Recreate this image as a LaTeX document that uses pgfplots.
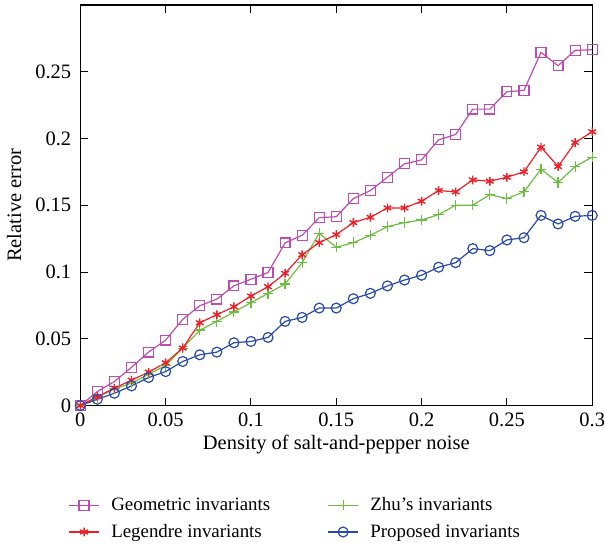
\documentclass[border=0pt]{standalone}
\usepackage{fontspec}
\setmainfont{Liberation Serif}
\usepackage{pgfplots}
\pgfplotsset{compat=1.18}

\definecolor{cgeo}{RGB}{190,76,176}
\definecolor{cleg}{RGB}{236,32,40}
\definecolor{czhu}{RGB}{108,190,64}
\definecolor{cpro}{RGB}{40,74,168}

\begin{document}
\fontsize{10.3}{12}\selectfont
\begin{tikzpicture}
\begin{axis}[
    scale only axis,
    width=257.5pt, height=201.5pt,
    xmin=0, xmax=0.3, ymin=0, ymax=0.3,
    xtick={0,0.05,0.1,0.15,0.2,0.25,0.3},
    ytick={0,0.05,0.1,0.15,0.2,0.25},
    xticklabels={0,0.05,0.1,0.15,0.2,0.25,0.3},
    yticklabels={0,0.05,0.1,0.15,0.2,0.25},
    tick label style={font=\fontsize{10.3}{12}\selectfont},
    xticklabel style={inner xsep=0pt},
    yticklabel style={xshift=-1pt},
    label style={font=\fontsize{10.3}{12}\selectfont},
    xlabel={Density of salt-and-pepper noise},
    ylabel={Relative error},
    xlabel style={yshift=3pt},
    ylabel style={yshift=0pt},
    tick align=inside,
    major tick length=4pt,
    axis line style={line width=0.6pt},
    every tick/.style={black, line width=0.5pt},
    legend columns=2,
    legend cell align=left,
    legend style={draw=none, fill=none, at={(-0.035,-0.208)}, anchor=north west,
        font=\fontsize{9.5}{12}\selectfont,
        /tikz/every odd column/.append style={column sep=4pt},
        /tikz/every even column/.append style={column sep=27pt},
        row sep=1.3pt},
    legend image code/.code={
        \draw[mark repeat=2, mark phase=2] plot coordinates {(0cm,0cm) (0.26cm,0cm) (0.52cm,0cm)};},
    every axis plot/.append style={line width=0.6pt},
    after end axis/.code={\path (rel axis cs:0,1) ++(0,2.5pt);},
]
\addplot[cgeo, mark=square, mark size=2.5pt, mark options={line width=0.6pt}] coordinates {
(0,0) (0.01,0.0105) (0.02,0.018) (0.03,0.0286) (0.04,0.040) (0.05,0.049)
(0.06,0.0645) (0.07,0.0747) (0.08,0.0797) (0.09,0.0896) (0.10,0.0946)
(0.11,0.0996) (0.12,0.1218) (0.13,0.1275) (0.14,0.1407) (0.15,0.1414)
(0.16,0.155) (0.17,0.161) (0.18,0.171) (0.19,0.181) (0.20,0.184)
(0.21,0.199) (0.22,0.203) (0.23,0.222) (0.24,0.222) (0.25,0.235)
(0.26,0.236) (0.27,0.2645) (0.28,0.2545) (0.29,0.266) (0.30,0.2665)};
\addlegendentry{Geometric invariants}
\addplot[czhu, mark=+, mark size=2.6pt, mark options={line width=0.6pt}] coordinates {
(0,0) (0.01,0.006) (0.02,0.0125) (0.03,0.0167) (0.04,0.0234) (0.05,0.030)
(0.06,0.043) (0.07,0.0565) (0.08,0.063) (0.09,0.070) (0.10,0.077)
(0.11,0.084) (0.12,0.091) (0.13,0.107) (0.14,0.129) (0.15,0.1185)
(0.16,0.122) (0.17,0.1275) (0.18,0.134) (0.19,0.137) (0.20,0.139)
(0.21,0.143) (0.22,0.150) (0.23,0.150) (0.24,0.158) (0.25,0.155)
(0.26,0.160) (0.27,0.177) (0.28,0.167) (0.29,0.179) (0.30,0.186)};
\addlegendentry{Zhu's invariants}
\addplot[cleg, mark=asterisk, mark size=2.2pt, mark options={line width=0.7pt}] coordinates {
(0,0) (0.01,0.0067) (0.02,0.013) (0.03,0.019) (0.04,0.025) (0.05,0.032)
(0.06,0.043) (0.07,0.062) (0.08,0.068) (0.09,0.074) (0.10,0.082)
(0.11,0.089) (0.12,0.099) (0.13,0.113) (0.14,0.122) (0.15,0.128)
(0.16,0.137) (0.17,0.141) (0.18,0.148) (0.19,0.148) (0.20,0.153)
(0.21,0.161) (0.22,0.160) (0.23,0.169) (0.24,0.168) (0.25,0.171)
(0.26,0.175) (0.27,0.1935) (0.28,0.179) (0.29,0.197) (0.30,0.205)};
\addlegendentry{Legendre invariants}
\addplot[cpro, mark=o, mark size=2.5pt, mark options={line width=0.6pt}] coordinates {
(0,0) (0.01,0.0047) (0.02,0.0092) (0.03,0.0147) (0.04,0.021) (0.05,0.0254)
(0.06,0.033) (0.07,0.038) (0.08,0.040) (0.09,0.047) (0.10,0.048)
(0.11,0.051) (0.12,0.063) (0.13,0.066) (0.14,0.073) (0.15,0.073)
(0.16,0.080) (0.17,0.084) (0.18,0.0896) (0.19,0.094) (0.20,0.0976)
(0.21,0.1036) (0.22,0.107) (0.23,0.1175) (0.24,0.116) (0.25,0.124)
(0.26,0.1257) (0.27,0.1424) (0.28,0.136) (0.29,0.1417) (0.30,0.1424)};
\addlegendentry{Proposed invariants}
\end{axis}
\end{tikzpicture}
\end{document}
